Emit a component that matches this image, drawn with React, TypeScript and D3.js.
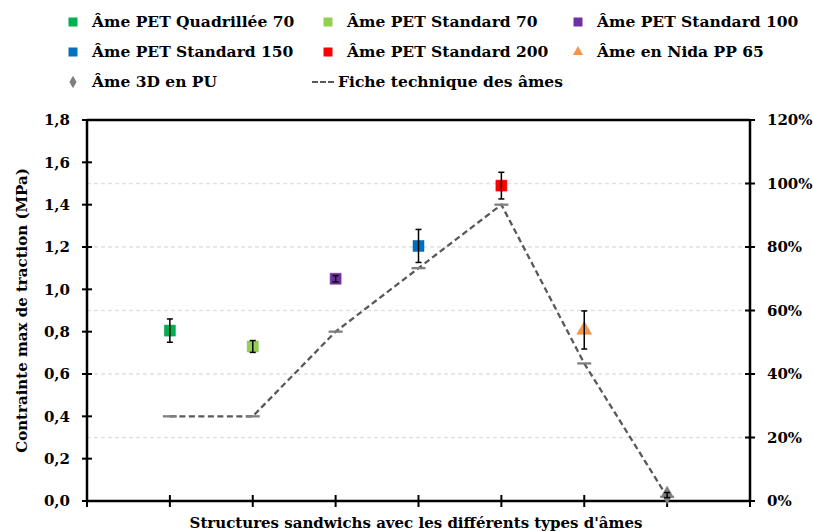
import React from "react";
import * as d3 from "d3";

const categories = [
  "Âme PET Quadrillée 70",
  "Âme PET Standard 70",
  "Âme PET Standard 100",
  "Âme PET Standard 150",
  "Âme PET Standard 200",
  "Âme en Nida PP 65",
  "Âme 3D en PU",
];
const measured = [0.805, 0.73, 1.05, 1.205, 1.49, 0.808, 0.028];
const errors = [0.055, 0.028, 0.015, 0.078, 0.063, 0.09, 0.012];
const datasheet = [0.4, 0.4, 0.8, 1.1, 1.4, 0.65, 0.02];
const colors = ["#00b050", "#92d050", "#7030a0", "#0070c0", "#ff0000", "#f79646", "#7f7f7f"];
const shapes = ["square", "square", "square", "square", "square", "triangle", "diamond"];
const leftTicks = [0, 0.2, 0.4, 0.6, 0.8, 1.0, 1.2, 1.4, 1.6, 1.8];
const rightTicks = [0, 0.2, 0.4, 0.6, 0.8, 1.0, 1.2];
const lineLabel = "Fiche technique des âmes";
const yTitle = "Contrainte max de traction (MPa)";
const xTitle = "Structures sandwichs avec les différents types d'âmes";

const W = 813;
const H = 531;
const FONT = "'DejaVu Serif', serif";

function symbolPath(shape: string, size: number) {
  const t = shape === "triangle" ? d3.symbolTriangle : shape === "diamond" ? d3.symbolDiamond : d3.symbolSquare;
  return d3.symbol().type(t).size(size)() as string;
}

export default function App() {
  const left = 87, right = 750, top = 120, bottom = 501;
  const x = d3.scaleLinear().domain([0, categories.length + 1]).range([left, right]);
  const y = d3.scaleLinear().domain([0, 1.8]).range([bottom, top]);
  const y2 = d3.scaleLinear().domain([0, 1.2]).range([bottom, top]);
  const xTicks = d3.range(0, categories.length + 2);
  const fmt = (v: number) => d3.format(".1f")(v).replace(".", ",");
  const fmtPct = d3.format(".0%");

  const line = d3
    .line<number>()
    .x((_, i) => x(i + 1))
    .y((d) => y(d));

  const legendCols = [73, 328, 578];
  const legendRows = [22, 52, 82];
  const legendItems = [
    ...categories.map((c, i) => ({ label: c, color: colors[i], shape: shapes[i], kind: "pt" })),
    { label: lineLabel, color: "#595959", shape: "line", kind: "line" },
  ];

  return (
    <svg width={W} height={H} style={{ position: "absolute", left: 0, top: 0, background: "#fff" }} fontFamily={FONT}>
      {/* gridlines from right axis */}
      {rightTicks.slice(1, -1).map((t) => (
        <line key={t} x1={left} x2={right} y1={y2(t)} y2={y2(t)} stroke="#e2e2dc" strokeWidth={1.3} strokeDasharray="4,3" />
      ))}
      {/* box */}
      <line x1={left} x2={right} y1={top} y2={top} stroke="#000" strokeWidth={2.5} />
      <line x1={left} x2={right} y1={bottom} y2={bottom} stroke="#000" strokeWidth={2.5} />
      <line x1={left} x2={left} y1={top} y2={bottom} stroke="#000" strokeWidth={2.5} />
      <line x1={right} x2={right} y1={top} y2={bottom} stroke="#000" strokeWidth={2.5} />
      {/* left ticks */}
      {leftTicks.map((t) => (
        <g key={t}>
          <line x1={left - 5} x2={left + 5} y1={y(t)} y2={y(t)} stroke="#000" strokeWidth={2} />
          <text x={70} y={y(t)} dy="0.35em" textAnchor="end" fontSize={15} fontWeight="bold" fill="#000">
            {fmt(t)}
          </text>
        </g>
      ))}
      {/* right ticks */}
      {rightTicks.map((t) => (
        <g key={t}>
          <line x1={right - 5} x2={right + 5} y1={y2(t)} y2={y2(t)} stroke="#000" strokeWidth={2} />
          <text x={767} y={y2(t)} dy="0.35em" textAnchor="start" fontSize={15} fontWeight="bold" fill="#000">
            {fmtPct(t)}
          </text>
        </g>
      ))}
      {/* x ticks */}
      {xTicks.map((i) => (
        <line key={i} x1={x(i)} x2={x(i)} y1={bottom - 6} y2={bottom + 6} stroke="#000" strokeWidth={2} />
      ))}
      {/* datasheet dashed line */}
      <path d={line(datasheet) as string} fill="none" stroke="#595959" strokeWidth={2.3} strokeDasharray="6,3.5" />
      {datasheet.map((v, i) => (
        <line key={i} x1={x(i + 1) - 7} x2={x(i + 1) + 7} y1={y(v)} y2={y(v)} stroke="#7f7f7f" strokeWidth={2.3} />
      ))}
      {/* measured points */}
      {measured.map((v, i) => {
        const cx = x(i + 1);
        const e = errors[i];
        const size = shapes[i] === "square" ? 121 : shapes[i] === "triangle" ? 95 : 90;
        return (
          <g key={i}>
            <path d={symbolPath(shapes[i], size)} transform={`translate(${cx},${y(v)})`} fill={colors[i]} stroke={d3.color(colors[i])!.darker(0.4).toString()} strokeWidth={0.5} />
            <line x1={cx} x2={cx} y1={y(v + e)} y2={y(v - e)} stroke="#000" strokeWidth={1.5} />
            <line x1={cx - 3} x2={cx + 3} y1={y(v + e)} y2={y(v + e)} stroke="#000" strokeWidth={1.5} />
            <line x1={cx - 3} x2={cx + 3} y1={y(v - e)} y2={y(v - e)} stroke="#000" strokeWidth={1.5} />
          </g>
        );
      })}
      {/* titles */}
      <text transform={`translate(22,${(top + bottom) / 2}) rotate(-90)`} textAnchor="middle" dy="0.35em" fontSize={15} fontWeight="bold" fill="#000">
        {yTitle}
      </text>
      <text x={416} y={523} dy="0.35em" textAnchor="middle" fontSize={15} fontWeight="bold" fill="#000">
        {xTitle}
      </text>
      {/* legend */}
      {legendItems.map((it, k) => {
        const col = k === 7 ? 1 : k % 3;
        const row = Math.floor(k / 3);
        const lx = legendCols[col];
        const ly = legendRows[row];
        return (
          <g key={k}>
            {it.kind === "line" ? (
              <line x1={lx - 16} x2={lx + 7} y1={ly} y2={ly} stroke="#595959" strokeWidth={2} strokeDasharray="6,2" />
            ) : (
              <path d={symbolPath(it.shape, it.shape === "square" ? 81 : 45)} transform={`translate(${lx},${ly})`} fill={it.color} />
            )}
            <text x={it.kind === "line" ? lx + 10 : lx + 19} y={ly} dy="0.35em" fontSize={15.5} fontWeight="bold" fill="#000">
              {it.label}
            </text>
          </g>
        );
      })}
    </svg>
  );
}
